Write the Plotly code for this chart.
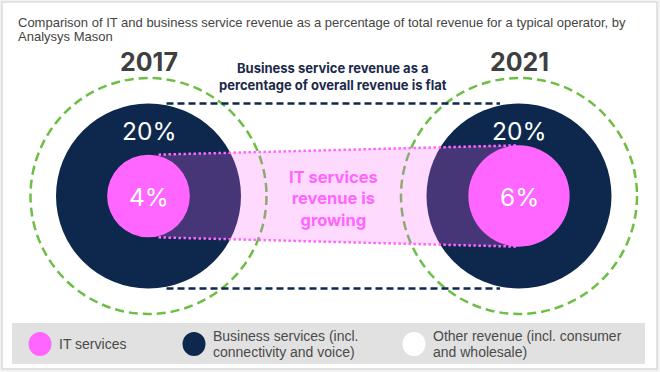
import math
import plotly.graph_objects as go

# ---------------- data ----------------
years = ["2017", "2021"]
it_share = [4, 6]            # IT services, % of total revenue
business_share = [20, 20]    # Business services, % of total revenue
title_lines = ["Comparison of IT and business service revenue as a percentage of total revenue "
               "for a typical operator, by", "Analysys Mason"]
flat_text = "Business service revenue as a<br>percentage of overall revenue is flat"
growing_text = "IT services<br>revenue is<br>growing"
legend_labels = [["IT services"],
                 ["Business services (incl.", "connectivity and voice)"],
                 ["Other revenue (incl. consumer", "and wholesale)"]]

# ---------------- style ----------------
W, H = 660, 372
PINK = "#FF66FF"
NAVY = "#0E284D"
GREEN = "#6DBE45"
centers_x = [148.5, 519]
center_y = 196
k = 92.5 / math.sqrt(20)      # px radius per sqrt(%)
outer_r = 118

shapes = []
ann = []

# card
shapes.append(dict(type="rect", x0=2, y0=2, x1=657, y1=369, fillcolor="white",
                   line=dict(color="#DCDCDC", width=1.5), layer="below"))

# green dashed circles
for cx in centers_x:
    shapes.append(dict(type="circle", x0=cx - outer_r, x1=cx + outer_r,
                       y0=center_y - outer_r, y1=center_y + outer_r,
                       line=dict(color=GREEN, width=2.5, dash="9px,5px"),
                       fillcolor="rgba(0,0,0,0)"))

# navy circles (business share)
rb = [k * math.sqrt(v) for v in business_share]
for cx, r in zip(centers_x, rb):
    shapes.append(dict(type="circle", x0=cx - r, x1=cx + r, y0=center_y - r, y1=center_y + r,
                       line=dict(width=0), fillcolor=NAVY))

# navy dashed "flat" lines
for sgn in (-1, 1):
    yy = center_y + sgn * rb[0]
    shapes.append(dict(type="line", x0=centers_x[0] + 18, x1=centers_x[1] - 19, y0=yy, y1=yy,
                       line=dict(color=NAVY, width=2.5, dash="7px,4px")))

# pink growth band
ri = [k * math.sqrt(v) for v in it_share]
xl, xr = centers_x[0] + 10, centers_x[1]
path = (f"M {xl},{center_y - ri[0]} L {xr},{center_y - ri[1]} "
        f"L {xr},{center_y + ri[1]} L {xl},{center_y + ri[0]} Z")
shapes.append(dict(type="path", path=path, fillcolor="rgba(255,102,255,0.24)", line=dict(width=0)))
for sgn in (-1, 1):
    shapes.append(dict(type="line", x0=xl, x1=xr - 2, y0=center_y + sgn * ri[0],
                       y1=center_y + sgn * ri[1],
                       line=dict(color=PINK, width=2.5, dash="2.5px,2.5px")))

# pink circles
for cx, r in zip(centers_x, ri):
    shapes.append(dict(type="circle", x0=cx - r, x1=cx + r, y0=center_y - r, y1=center_y + r,
                       line=dict(width=0), fillcolor=PINK))

# labels on circles
for cx, yr, b, i in zip(centers_x, years, business_share, it_share):
    ann.append(dict(x=cx, y=62, text=f"<b>{yr}</b>", showarrow=False,
                    font=dict(family="Inter", size=25, color="#3F3F3F")))
    ann.append(dict(x=cx, y=131, text=f"{b}%", showarrow=False,
                    font=dict(family="Inter", size=24.5, color="white")))
    ann.append(dict(x=cx, y=197, text=f"{i}%", showarrow=False,
                    font=dict(family="Inter", size=24.5, color="white")))

ann.append(dict(x=333, y=76, text=f"<b>{flat_text}</b>", showarrow=False,
                font=dict(family="Inter", size=13, color="#1B2A4A")))
ann.append(dict(x=333, y=198, text=f"<b>{growing_text}</b>", showarrow=False,
                font=dict(family="Inter", size=16.5, color=PINK)))

# title
for j, line in enumerate(title_lines):
    ann.append(dict(x=16, y=22.5 + 13.5 * j, text=line, showarrow=False, xanchor="left",
                    font=dict(family="Liberation Sans, Arial", size=13, color="#444444")))

# legend
shapes.append(dict(type="rect", x0=12, y0=323, x1=645, y1=364, fillcolor="#E1E1E1",
                   line=dict(width=0)))
leg_colors = [PINK, NAVY, "white"]
leg_x = [40, 194, 414]
for lx, c, lab in zip(leg_x, leg_colors, legend_labels):
    shapes.append(dict(type="circle", x0=lx - 11.5, x1=lx + 11.5, y0=344 - 12, y1=344 + 12,
                       line=dict(width=0), fillcolor=c))
    n = len(lab)
    for j, line in enumerate(lab):
        yy = 344 + (j - (n - 1) / 2) * 16
        ann.append(dict(x=lx + 17, y=yy, text=line, showarrow=False, xanchor="left",
                        font=dict(family="Liberation Sans, Arial", size=14, color="#4A4A4A")))

fig = go.Figure()
fig.update_layout(
    width=W, height=H, margin=dict(l=0, r=0, t=0, b=0),
    paper_bgcolor="#F2F2F2", plot_bgcolor="rgba(0,0,0,0)",
    xaxis=dict(range=[0, W], visible=False, fixedrange=True),
    yaxis=dict(range=[H, 0], visible=False, fixedrange=True),
    shapes=shapes, annotations=ann, showlegend=False,
)
fig.write_html("out.html", config={"displayModeBar": False},
               post_script="document.body.style.margin='0px';document.body.style.overflow='hidden';")
